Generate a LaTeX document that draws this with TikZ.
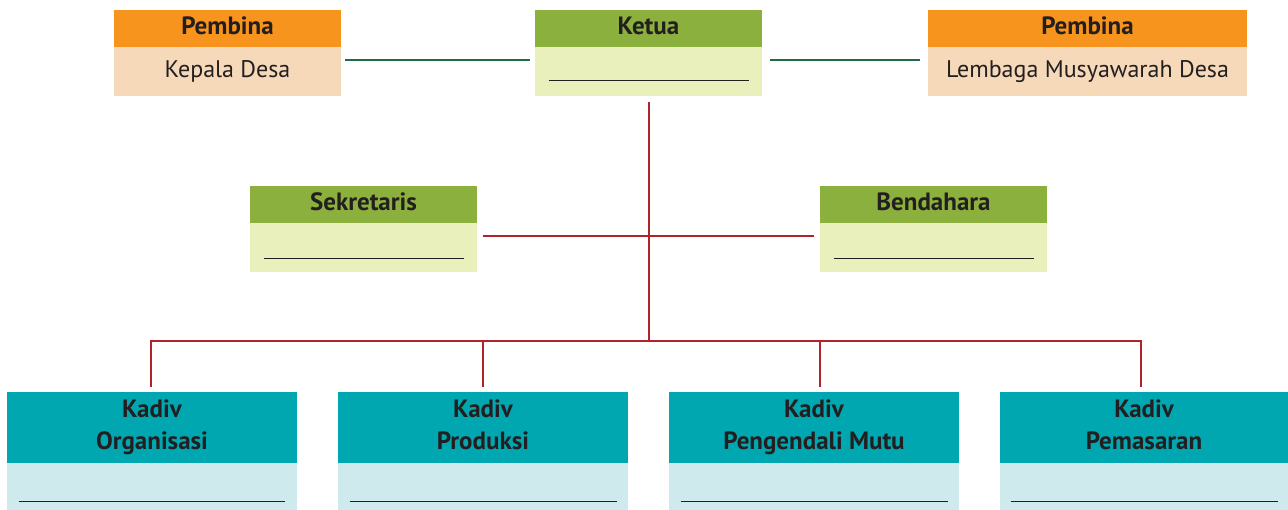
\documentclass[tikz,border=0pt]{standalone}
\usepackage{fontspec}
\setmainfont{PT Sans}
\definecolor{orangeH}{HTML}{F7941D}
\definecolor{peach}{HTML}{F5D9B9}
\definecolor{greenH}{HTML}{8CB03D}
\definecolor{greenL}{HTML}{EAF0BC}
\definecolor{tealH}{HTML}{00A7B1}
\definecolor{tealL}{HTML}{CEEAEC}
\definecolor{ink}{HTML}{231F20}
\definecolor{lineG}{HTML}{1F6B45}
\definecolor{lineR}{HTML}{B0232A}
\tikzset{
  hdr/.style={anchor=north west, inner sep=0pt, outer sep=0pt, text=ink, font=\fontsize{25}{28}\selectfont\bfseries, align=center},
  bdy/.style={anchor=north west, inner sep=0pt, outer sep=0pt, text=ink, font=\fontsize{24}{28}\selectfont, align=center},
  gline/.style={draw=lineG, line width=2pt},
  rline/.style={draw=lineR, line width=2.4pt},
}
\newcommand{\blank}[2]{\raisebox{#2}{\color{ink}\rule{#1}{1.3pt}}}
\begin{document}
\begin{tikzpicture}[x=1pt,y=-1pt]
\useasboundingbox (0,0) rectangle (1288,510);
% top row
\node[hdr, fill=orangeH, minimum width=227pt, minimum height=37pt] (plh) at (114,10) {\strut Pembina};
\node[bdy, fill=peach, minimum width=227pt, minimum height=49pt] (plb) at (114,47) {\strut Kepala Desa};
\node[hdr, fill=greenH, minimum width=227pt, minimum height=37pt] (keth) at (535,10) {\strut Ketua};
\node[bdy, fill=greenL, minimum width=227pt, minimum height=49pt] (ketb) at (535,47) {\blank{200pt}{-19pt}};
\node[hdr, fill=orangeH, minimum width=319pt, minimum height=37pt] (prh) at (928,10) {\strut Pembina};
\node[bdy, fill=peach, minimum width=319pt, minimum height=49pt] (prb) at (928,47) {\strut Lembaga Musyawarah Desa};
% middle row
\node[hdr, fill=greenH, minimum width=227pt, minimum height=37pt] (sekh) at (250,186) {\strut Sekretaris};
\node[bdy, fill=greenL, minimum width=227pt, minimum height=49pt] (sekb) at (250,223) {\blank{200pt}{-23pt}};
\node[hdr, fill=greenH, minimum width=227pt, minimum height=37pt] (benh) at (820,186) {\strut Bendahara};
\node[bdy, fill=greenL, minimum width=227pt, minimum height=49pt] (benb) at (820,223) {\blank{200pt}{-23pt}};
% bottom row
\node[hdr, fill=tealH, minimum width=290pt, minimum height=71pt] (k1h) at (7,392) {\strut Kadiv\\[4pt]\strut Organisasi};
\node[bdy, fill=tealL, minimum width=290pt, minimum height=47pt] (k1b) at (7,463) {\blank{267pt}{-31pt}};
\node[hdr, fill=tealH, minimum width=290pt, minimum height=71pt] (k2h) at (338,392) {\strut Kadiv\\[4pt]\strut Produksi};
\node[bdy, fill=tealL, minimum width=290pt, minimum height=47pt] (k2b) at (338,463) {\blank{267pt}{-31pt}};
\node[hdr, fill=tealH, minimum width=290pt, minimum height=71pt] (k3h) at (669,392) {\strut Kadiv\\[4pt]\strut Pengendali Mutu};
\node[bdy, fill=tealL, minimum width=290pt, minimum height=47pt] (k3b) at (669,463) {\blank{267pt}{-31pt}};
\node[hdr, fill=tealH, minimum width=288pt, minimum height=71pt] (k4h) at (1000,392) {\strut Kadiv\\[4pt]\strut Pemasaran};
\node[bdy, fill=tealL, minimum width=288pt, minimum height=47pt] (k4b) at (1000,463) {\blank{267pt}{-31pt}};
% connectors
\coordinate (hub) at (649,236);
\coordinate (bus) at (649,341);
\coordinate (b1) at (151,341);
\coordinate (b2) at (483,341);
\coordinate (b3) at (820,341);
\coordinate (b4) at (1141,341);
\draw[gline] ([xshift=4pt,yshift=11.5pt]plb.east) -- ([xshift=-5pt,yshift=11.5pt]ketb.west);
\draw[gline] ([xshift=8pt,yshift=11.5pt]ketb.east) -- ([xshift=-8pt,yshift=11.5pt]prb.west);
\draw[rline] ([yshift=-6pt]ketb.south -| hub) -- (bus);
\draw[rline] ([xshift=6pt,yshift=11.5pt]sekb.east) -- ([xshift=-6pt,yshift=11.5pt]benb.west);
\draw[rline] ([yshift=5pt]k1h.north -| b1) -- (b1) -- (b4) -- ([yshift=5pt]k4h.north -| b4);
\draw[rline] (b2) -- ([yshift=5pt]k2h.north -| b2);
\draw[rline] (b3) -- ([yshift=5pt]k3h.north -| b3);
\end{tikzpicture}
\end{document}
